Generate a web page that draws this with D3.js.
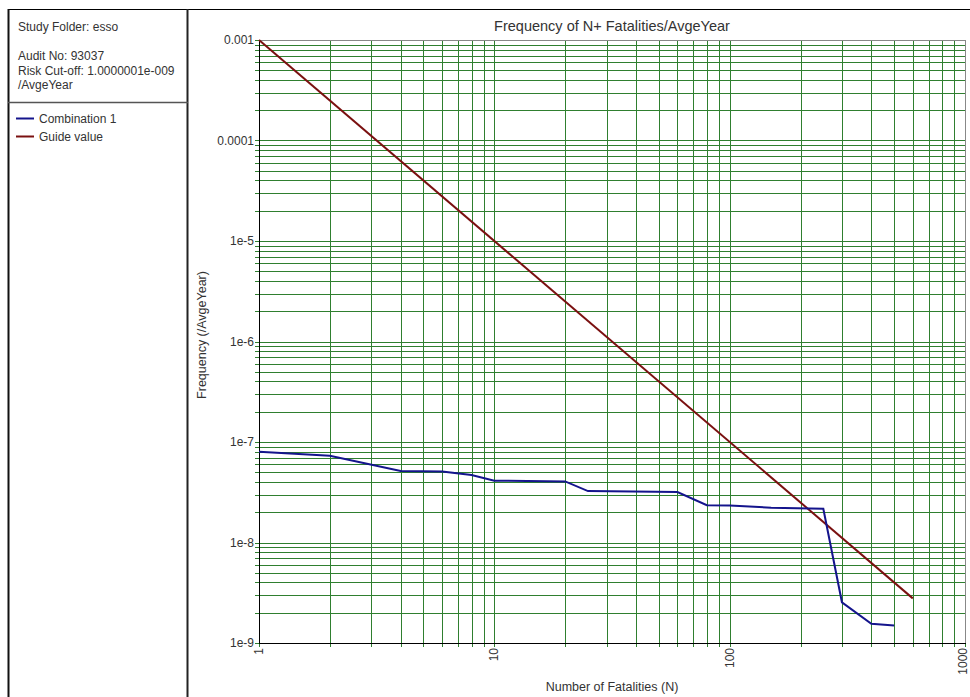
<!DOCTYPE html>
<html>
<head>
<meta charset="utf-8">
<script src="https://cdn.jsdelivr.net/npm/d3@7"></script>
<style>
  body { margin: 0; background: #fff; }
  svg text { font-family: Arial, "Liberation Sans", sans-serif; fill: #333; }
</style>
</head>
<body>
<div id="chart"></div>
<script>
// N values and frequencies
const comboN = [1, 2, 4, 6, 8, 10, 20, 25, 60, 80, 100, 150, 250, 300, 400, 500];
const comboF = [8.0e-8, 7.3e-8, 5.15e-8, 5.1e-8, 4.7e-8, 4.12e-8, 4.05e-8, 3.25e-8,
                3.18e-8, 2.35e-8, 2.33e-8, 2.22e-8, 2.17e-8, 2.54e-9, 1.55e-9, 1.49e-9];
const guideN = [1, 600];
const guideF = [1e-3, 2.78e-9];

const xTickValues = [1, 10, 100, 1000];
const xTickLabels = ["1", "10", "100", "1000"];
const yTickValues = [1e-9, 1e-8, 1e-7, 1e-6, 1e-5, 1e-4, 1e-3];
const yTickLabels = ["1e-9", "1e-8", "1e-7", "1e-6", "1e-5", "0.0001", "0.001"];

const infoLines = ["Audit No: 93037", "Risk Cut-off: 1.0000001e-009", "/AvgeYear"];
const legendNames = ["Combination 1", "Guide value"];

const Blue = "#14148c";
const Maroon = "#7a1010";
const GridGreen = "#2f7f2f";

(function () {
  var W = 970, H = 697;
  var svg = d3.select("#chart").append("svg").attr("width", W).attr("height", H);

  // outer frame and left info panel
  svg.append("line").attr("x1", 8).attr("x2", W).attr("y1", 9.5).attr("y2", 9.5)
    .attr("stroke", "#000").attr("stroke-width", 1);
  svg.append("line").attr("x1", 8.5).attr("x2", 8.5).attr("y1", 9).attr("y2", H)
    .attr("stroke", "#111").attr("stroke-width", 2);
  svg.append("line").attr("x1", 187.5).attr("x2", 187.5).attr("y1", 9).attr("y2", H)
    .attr("stroke", "#222").attr("stroke-width", 2);
  svg.append("line").attr("x1", 8).attr("x2", 188).attr("y1", 102.5).attr("y2", 102.5)
    .attr("stroke", "#555").attr("stroke-width", 1.5);

  svg.append("text").attr("x", 18).attr("y", 31).style("font-size", "12px")
    .text("Study Folder: esso");
  svg.selectAll(".info").data(infoLines).enter().append("text")
    .attr("class", "info")
    .attr("x", 18)
    .attr("y", function (d, i) { return 60 + i * 14.5; })
    .style("font-size", "12px")
    .text(function (d) { return d; });

  // legend
  var legendColors = [Blue, Maroon];
  var lg = svg.selectAll(".legend").data(legendNames).enter().append("g")
    .attr("class", "legend")
    .attr("transform", function (d, i) { return "translate(0," + (118 + i * 18) + ")"; });
  lg.append("line").attr("x1", 16).attr("x2", 34).attr("y1", 0.5).attr("y2", 0.5)
    .attr("stroke", function (d, i) { return legendColors[i]; }).attr("stroke-width", 2);
  lg.append("text").attr("x", 39).attr("y", 4.5).style("font-size", "12px")
    .text(function (d) { return d; });

  // plot area
  var left = 259, right = 965, top = 40, bottom = 643;
  var x = d3.scaleLog().domain([1, 1000]).range([left, right]);
  var y = d3.scaleLog().domain([1e-9, 1e-3]).range([bottom, top]);

  // grid lines at every minor tick
  var xGrid = x.ticks();
  var yGrid = y.ticks();
  svg.append("g").selectAll("line").data(xGrid).enter().append("line")
    .attr("x1", function (d) { return Math.round(x(d)) + 0.5; })
    .attr("x2", function (d) { return Math.round(x(d)) + 0.5; })
    .attr("y1", top).attr("y2", bottom + 4)
    .attr("stroke", GridGreen).attr("stroke-width", 1);
  svg.append("g").selectAll("line").data(yGrid).enter().append("line")
    .attr("y1", function (d) { return Math.round(y(d)) + 0.5; })
    .attr("y2", function (d) { return Math.round(y(d)) + 0.5; })
    .attr("x1", left - 4).attr("x2", right)
    .attr("stroke", GridGreen).attr("stroke-width", 1);

  // frame of plot: grey top/right, black left/bottom
  svg.append("line").attr("x1", left).attr("x2", right + 0.5).attr("y1", top + 0.5).attr("y2", top + 0.5)
    .attr("stroke", "#888");
  svg.append("line").attr("x1", right + 0.5).attr("x2", right + 0.5).attr("y1", top).attr("y2", bottom)
    .attr("stroke", "#888");
  svg.append("line").attr("x1", left + 0.5).attr("x2", left + 0.5).attr("y1", top).attr("y2", bottom + 1)
    .attr("stroke", "#000");
  svg.append("line").attr("x1", left).attr("x2", right + 1).attr("y1", bottom + 0.5).attr("y2", bottom + 0.5)
    .attr("stroke", "#000");

  // y tick labels
  svg.selectAll(".ylab").data(yTickValues).enter().append("text")
    .attr("class", "ylab")
    .attr("x", left - 5)
    .attr("y", function (d) { return y(d) + 4; })
    .attr("text-anchor", "end")
    .style("font-size", "12px")
    .text(function (d, i) { return yTickLabels[i]; });

  // x tick labels, rotated (last one nudged in so it stays on the page)
  svg.selectAll(".xlab").data(xTickValues).enter().append("text")
    .attr("class", "xlab")
    .attr("transform", function (d) {
      var px = Math.min(x(d) + 4, W - 3);
      return "translate(" + px + "," + (bottom + 5) + ") rotate(-90)";
    })
    .attr("text-anchor", "end")
    .style("font-size", "12px")
    .text(function (d, i) { return xTickLabels[i]; });

  // titles
  svg.append("text").attr("x", 612).attr("y", 31).attr("text-anchor", "middle")
    .style("font-size", "14.5px").text("Frequency of N+ Fatalities/AvgeYear");
  svg.append("text").attr("x", 612).attr("y", 691).attr("text-anchor", "middle")
    .style("font-size", "12.5px").text("Number of Fatalities (N)");
  svg.append("text").attr("transform", "translate(206,335) rotate(-90)").attr("text-anchor", "middle")
    .style("font-size", "12.5px").text("Frequency (/AvgeYear)");

  // series
  var line = d3.line()
    .x(function (d) { return x(d[0]); })
    .y(function (d) { return y(d[1]); });

  svg.append("path")
    .datum(guideN.map(function (n, i) { return [n, guideF[i]]; }))
    .attr("d", line).attr("fill", "none")
    .attr("stroke", Maroon).attr("stroke-width", 2);

  svg.append("path")
    .datum(comboN.map(function (n, i) { return [n, comboF[i]]; }))
    .attr("d", line).attr("fill", "none")
    .attr("stroke", Blue).attr("stroke-width", 2);
})();
</script>
</body>
</html>
